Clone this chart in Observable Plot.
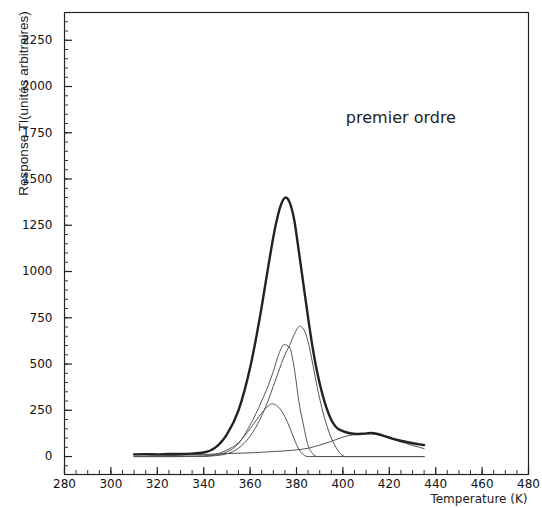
<!DOCTYPE html>
<html><head><meta charset="utf-8">
<script src="https://cdn.jsdelivr.net/npm/d3@7"></script>
<script src="https://cdn.jsdelivr.net/npm/@observablehq/plot@0.6"></script>
<style>body{margin:0;background:#fff}</style>
</head><body><div id="chart"></div>
<script>
// Total TL response (measured)
const totalT = [310,315,320,325,330,335,340,345,350,355,360,365,368,371,373,375.3,377,379,381,383,385,387,389,391,393,395,397,400,403,406,409,412,415,418,421,424,427,430,433,435];
const totalR = [12,13,12,14,14,16,22,48,120,250,480,810,1040,1250,1350,1400,1375,1280,1110,930,750,585,450,345,260,198,160,137,126,122,124,127,122,110,98,88,80,72,66,62];
// First-order components
const c1T = [310,330,340,345,350,355,360,365,368,369.5,372,375,377,379,381,383,385,435];
const c1R = [0,0,3,12,35,75,150,235,275,285,270,215,160,95,40,10,0,0];
const c2T = [310,330,340,345,350,355,360,365,368,370,372,374.7,377,379,381,383,385,387,389,435];
const c2R = [0,0,2,8,25,70,170,300,390,460,540,605,590,480,300,170,60,15,0,0];
const c3T = [310,330,340,345,350,355,360,365,368,370,372,375,377,379,381.5,383,385,387,389,391,393,395,397,399,401,435];
const c3R = [0,0,1,5,15,45,110,220,310,380,450,550,600,660,705,690,620,500,370,260,170,100,50,15,0,0];
const c4T = [310,320,330,340,350,360,370,380,385,390,395,400,403,406,409,412,415,418,421,424,427,430,433,435];
const c4R = [2,4,7,11,16,20,27,36,45,62,82,105,115,119,121,123,118,108,95,83,72,60,50,43];

const xMajor = [280,300,320,340,360,380,400,420,440,460,480];
const xMinor = d3.range(285, 480, 5);
const yMajor = [0,250,500,750,1000,1250,1500,1750,2000,2250];
const yMinor = d3.range(-50, 2400, 50);
const notes = [{x: 425, y: 1830, text: "premier ordre"}];
const yLabel = "Response Tl(unités arbitraires)";
const xLabel = "Temperature (K)";

const toRows = (T, R) => T.map((t, i) => ({t, r: R[i]}));
const comps = [toRows(c1T, c1R), toRows(c2T, c2R), toRows(c3T, c3R), toRows(c4T, c4R)];

const W = 542, H = 508, mL = 64, mR = 14, mT = 12, mB = 34;
const iw = W - mL - mR, ih = H - mT - mB;

const plot = Plot.plot({
  width: W, height: H, marginLeft: mL, marginRight: mR, marginTop: mT, marginBottom: mB,
  x: {domain: [280, 480]},
  y: {domain: [-97, 2400]},
  style: {fontFamily: "'DejaVu Sans', sans-serif", fontSize: "12px", color: "#111", background: "#fff"},
  marks: [
    Plot.frame({stroke: "#222", strokeWidth: 1.2}),
    Plot.axisX({ticks: xMajor, tickSize: 0, tickPadding: 5, tickFormat: d => String(d), label: null, fontSize: 12}),
    Plot.axisY({ticks: yMajor, tickSize: 0, tickPadding: 12, tickFormat: d => String(d), label: null, fontSize: 12}),
    Plot.ruleX(xMinor, {x: d => d, insetTop: ih - 4, stroke: "#333"}),
    Plot.ruleX(xMajor, {x: d => d, insetTop: ih - 7, stroke: "#222", strokeWidth: 1.2}),
    Plot.ruleY(yMinor, {y: d => d, insetRight: iw - 4, stroke: "#333"}),
    Plot.ruleY(yMajor, {y: d => d, insetRight: iw - 8, stroke: "#222", strokeWidth: 1.2}),
    ...comps.map(c => Plot.line(c, {x: "t", y: "r", curve: "monotone-x", stroke: "#555", strokeWidth: 1})),
    Plot.line(toRows(totalT, totalR), {x: "t", y: "r", curve: "monotone-x", stroke: "#222", strokeWidth: 2.4}),
    Plot.text(notes, {x: "x", y: "y", text: "text", fontSize: 16, fill: "#222"}),
    Plot.text([yLabel], {frameAnchor: "top-left", rotate: -90, dx: -46, dy: 91, fontSize: 13.5, fontFamily: "'Liberation Sans', Arial, sans-serif", textAnchor: "middle", fill: "#222"}),
    Plot.text([xLabel], {frameAnchor: "bottom-right", dx: -1, dy: 28, fontSize: 12, textAnchor: "end", fill: "#222"})
  ]
});
document.getElementById("chart").appendChild(plot);
</script>
</body></html>
